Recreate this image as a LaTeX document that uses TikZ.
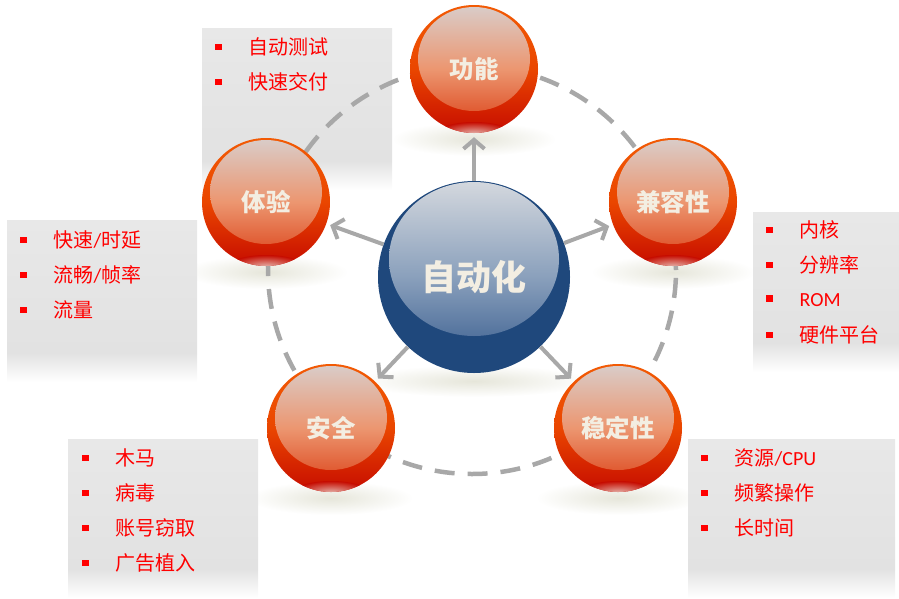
\documentclass[tikz,border=0pt]{standalone}
\usepackage{fontspec}
\usepackage{tikz}
\usetikzlibrary{positioning, arrows.meta, backgrounds}
\newfontfamily\cjk{Noto Sans CJK SC}
\newfontfamily\latinpart{Carlito}
\definecolor{rimorange}{HTML}{F25A04}
\definecolor{rimmid}{HTML}{EA4600}
\definecolor{rimred}{HTML}{C60C00}
\definecolor{glowtop}{HTML}{D9CDCA}
\definecolor{glowmid}{HTML}{EC9670}
\definecolor{glowbot}{HTML}{DA3C12}
\definecolor{reflectpink}{HTML}{E6B8B0}
\definecolor{hubrim}{HTML}{1F487C}
\definecolor{hubtop}{HTML}{D4D8DE}
\definecolor{hubmid}{HTML}{8AA0BC}
\definecolor{hubbot}{HTML}{30568A}
\definecolor{labelcream}{HTML}{F3EEE2}
\definecolor{linkgray}{HTML}{A8A8A8}
\definecolor{panelgray}{HTML}{E2E2E2}
\definecolor{paneltop}{HTML}{E8E8E8}
\definecolor{itemred}{HTML}{FF0000}
\definecolor{shadowtint}{HTML}{E6E6DA}
\pgfdeclareverticalshading{panelfade}{100bp}{color(0bp)=(white); color(25bp)=(white); color(34bp)=(panelgray); color(75bp)=(paneltop); color(100bp)=(paneltop)}
\newcommand{\sqbullet}{\textcolor{itemred}{\rule[4.5pt]{6.5pt}{6.5pt}}\hspace{27pt}}
\tikzset{
    panel/.style={shade, shading=panelfade, anchor=north west, inner sep=0pt, outer sep=0pt},
    item/.style={font=\cjk\fontsize{20}{24}\selectfont, text=itemred, inner sep=0pt, anchor=west},
    redball/.style={circle, minimum size=128pt, inner sep=0pt,
        top color=rimorange, bottom color=rimred, middle color=rimmid,
        text=labelcream, font=\cjk\bfseries\fontsize{24.5}{28}\selectfont,
        path picture={
            \shade[top color=glowtop, bottom color=glowbot, middle color=glowmid]
                ([yshift=10pt]path picture bounding box.center) ellipse (56pt and 52pt);
            \shade[inner color=reflectpink, outer color=rimred]
                ([yshift=-65pt]path picture bounding box.center) ellipse (38pt and 12pt);
        }},
    hubball/.style={circle, minimum size=192pt, inner sep=0pt, fill=hubrim,
        text=labelcream, font=\cjk\bfseries\fontsize{35}{40}\selectfont,
        path picture={
            \shade[top color=hubtop, bottom color=hubbot, middle color=hubmid]
                ([yshift=18pt]path picture bounding box.center) ellipse (85pt and 77pt);
        }},
    spoke/.style={draw=linkgray, line width=4pt, -{Straight Barb[length=9pt, width=21pt]}, shorten >=4pt},
    ring/.style={draw=linkgray, line width=4.5pt, dash pattern=on 20pt off 13pt},
    groundshade/.style={inner color=shadowtint, outer color=white},
}

\begin{document}
\begin{tikzpicture}[x=1pt, y=-1pt]
\useasboundingbox (0,0) rectangle (899,598);

% spheres
\node[hubball] (hub) at (474,277) {自动化};
\node[redball] (gong) at (474,69) {功能};
\node[redball] (jian) at (673,202) {兼容性};
\node[redball] (wen) at (618,428) {稳定性};
\node[redball] (an) at (331,428) {安全};
\node[redball] (ti) at (266,202) {体验};

\draw[spoke] (hub) -- (gong);
\draw[spoke] (hub) -- (jian);
\draw[spoke] (hub) -- (wen);
\draw[spoke] (hub) -- (an);
\draw[spoke] (hub) -- (ti);

\begin{scope}[on background layer]
    \shade[groundshade] ([yshift=-70pt]gong.center) ellipse (82pt and 17pt);
    \shade[groundshade] ([yshift=-70pt]jian.center) ellipse (82pt and 17pt);
    \shade[groundshade] ([yshift=-70pt]wen.center) ellipse (82pt and 17pt);
    \shade[groundshade] ([yshift=-70pt]an.center) ellipse (82pt and 17pt);
    \shade[groundshade] ([yshift=-70pt]ti.center) ellipse (82pt and 17pt);
    \shade[groundshade] ([yshift=-104pt]hub.center) ellipse (118pt and 16pt);

    \node[panel, minimum width=190pt, minimum height=162pt] (gongpanel) at (202,28) {};
    \node[panel, minimum width=190pt, minimum height=162pt] (tipanel) at (7,220) {};
    \node[panel, minimum width=146pt, minimum height=160pt] (jianpanel) at (753,212) {};
    \node[panel, minimum width=190pt, minimum height=159pt] (anpanel) at (68,439) {};
    \node[panel, minimum width=207pt, minimum height=159pt] (wenpanel) at (688,439) {};

    \coordinate (ringmid) at (472,270);
    \draw[ring] (ringmid) circle (204pt);
\end{scope}

% bullet lists
\node[item] (g1) at ([xshift=13pt, yshift=-19pt]gongpanel.north west) {\sqbullet 自动测试};
\node[item, below=35pt of g1.west, anchor=west] (g2) {\sqbullet 快速交付};

\node[item] (t1) at ([xshift=13pt, yshift=-20pt]tipanel.north west) {\sqbullet 快速{\latinpart /}时延};
\node[item, below=35pt of t1.west, anchor=west] (t2) {\sqbullet 流畅{\latinpart /}帧率};
\node[item, below=35pt of t2.west, anchor=west] (t3) {\sqbullet 流量};

\node[item] (j1) at ([xshift=13pt, yshift=-18pt]jianpanel.north west) {\sqbullet 内核};
\node[item, below=35pt of j1.west, anchor=west] (j2) {\sqbullet 分辨率};
\node[item, below=35pt of j2.west, anchor=west] (j3) {\sqbullet {\latinpart ROM}};
\node[item, below=35pt of j3.west, anchor=west] (j4) {\sqbullet 硬件平台};

\node[item] (a1) at ([xshift=14pt, yshift=-19pt]anpanel.north west) {\sqbullet 木马};
\node[item, below=35pt of a1.west, anchor=west] (a2) {\sqbullet 病毒};
\node[item, below=35pt of a2.west, anchor=west] (a3) {\sqbullet 账号窃取};
\node[item, below=35pt of a3.west, anchor=west] (a4) {\sqbullet 广告植入};

\node[item] (w1) at ([xshift=13pt, yshift=-19pt]wenpanel.north west) {\sqbullet 资源{\latinpart /CPU}};
\node[item, below=35pt of w1.west, anchor=west] (w2) {\sqbullet 频繁操作};
\node[item, below=35pt of w2.west, anchor=west] (w3) {\sqbullet 长时间};
\end{tikzpicture}
\end{document}
